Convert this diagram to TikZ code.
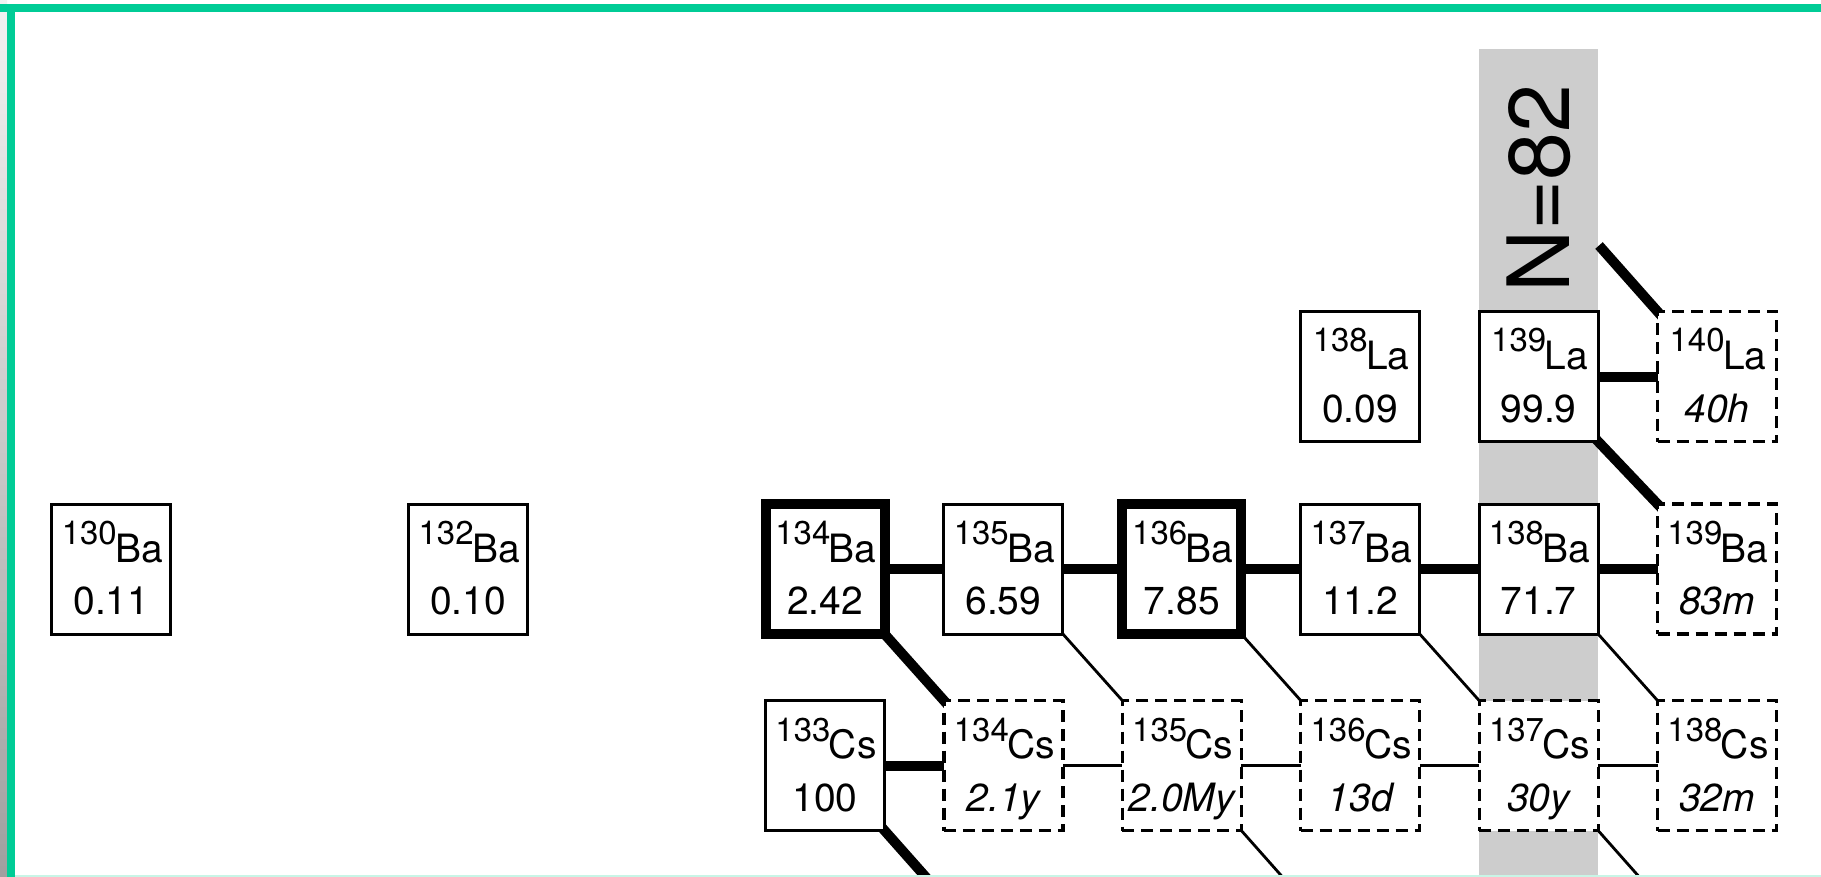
\documentclass[tikz,border=0pt]{standalone}
\usepackage{fontspec}
\setmainfont{TeX Gyre Heros}
\usetikzlibrary{calc}
\definecolor{framegreen}{RGB}{0,204,150}
\definecolor{lightgreen}{RGB}{200,245,230}
\definecolor{bandgray}{RGB}{205,205,205}
\newcommand\supsz{\fontsize{33}{33}\selectfont}
\newcommand\symsz{\fontsize{39}{39}\selectfont}
\newcommand\valsz{\fontsize{39}{39}\selectfont}
\pgfdeclarelayer{bandlayer}
\pgfdeclarelayer{linelayer}
\pgfsetlayers{bandlayer,linelayer,main}
\newcommand\isonode[7]{%
  \node[#4] (#1) at (#2,#3) {};
  \node[lbl] (#1-a) at ($(#1.center)+(1,7)$) {\supsz\raisebox{17.5pt}{#5}\kern-1.5pt\symsz #6};
  \node[lbl] (#1-b) at ($(#1.center)+(0,-45.5)$) {\valsz #7};
}
\begin{document}
\begin{tikzpicture}[x=1pt,y=1pt,
  isobox/.style={draw=black, fill=white, line width=3pt, minimum width=119pt,
    minimum height=130pt, inner sep=0pt, outer sep=0pt},
  thickbox/.style={isobox, line width=10pt},
  dashbox/.style={isobox, line width=3.2pt, dash pattern=on 12pt off 7pt},
  thickline/.style={line width=10pt, shorten <=-6pt, shorten >=-6pt},
  thinline/.style={line width=2.8pt, shorten <=-4pt, shorten >=-4pt},
  lbl/.style={anchor=base, inner sep=0pt}]
\useasboundingbox (0,0) rectangle (1821,-877);
\clip (0,0) rectangle (1821,-877);

% nuclides
\isonode{la138}{1360.2}{-376.5}{isobox}{138}{La}{0.09}
\isonode{la139}{1538.6}{-376.5}{isobox}{139}{La}{99.9}
\isonode{la140}{1717}{-376.5}{dashbox}{140}{La}{\itshape 40h}

\isonode{ba130}{111.4}{-569}{isobox}{130}{Ba}{0.11}
\isonode{ba132}{468.2}{-569}{isobox}{132}{Ba}{0.10}
\isonode{ba134}{825}{-569}{thickbox}{134}{Ba}{2.42}
\isonode{ba135}{1003.4}{-569}{isobox}{135}{Ba}{6.59}
\isonode{ba136}{1181.8}{-569}{thickbox}{136}{Ba}{7.85}
\isonode{ba137}{1360.2}{-569}{isobox}{137}{Ba}{11.2}
\isonode{ba138}{1538.6}{-569}{isobox}{138}{Ba}{71.7}
\isonode{ba139}{1717}{-569}{dashbox}{139}{Ba}{\itshape 83m}

\isonode{cs133}{825}{-765.5}{isobox}{133}{Cs}{100}
\isonode{cs134}{1003.4}{-765.5}{dashbox}{134}{Cs}{\itshape 2.1y}
\isonode{cs135}{1181.8}{-765.5}{dashbox}{135}{Cs}{\itshape 2.0My}
\isonode{cs136}{1360.2}{-765.5}{dashbox}{136}{Cs}{\itshape 13d}
\isonode{cs137}{1538.6}{-765.5}{dashbox}{137}{Cs}{\itshape 30y}
\isonode{cs138}{1717}{-765.5}{dashbox}{138}{Cs}{\itshape 32m}

% N=82 band
\begin{pgfonlayer}{bandlayer}
  \fill[white] (0,0) rectangle (1821,-877);
  \fill[bandgray] (1479,-49) rectangle (1598,-877);
\end{pgfonlayer}
\node[rotate=90, inner sep=0pt, font=\fontsize{86}{86}\selectfont] (n82) at (1539,-189) {N=82};

% free ends
\coordinate (hid) at ($(la140.north west)+(-58.5,66)$);
\coordinate (off133) at ($(cs133.south east)+(58.5,-66)$);
\coordinate (off135) at ($(cs135.south east)+(58.5,-66)$);
\coordinate (off137) at ($(cs137.south east)+(58.5,-66)$);

% connectors
\begin{pgfonlayer}{linelayer}
  \draw[thickline] (ba134.east) -- (ba135.west);
  \draw[thickline] (ba135.east) -- (ba136.west);
  \draw[thickline] (ba136.east) -- (ba137.west);
  \draw[thickline] (ba137.east) -- (ba138.west);
  \draw[thickline] (ba138.east) -- (ba139.west);
  \draw[thickline] (la139.east) -- (la140.west);
  \draw[thickline] (cs133.east) -- (cs134.west);
  \draw[thinline] (cs134.east) -- (cs135.west);
  \draw[thinline] (cs135.east) -- (cs136.west);
  \draw[thinline] (cs136.east) -- (cs137.west);
  \draw[thinline] (cs137.east) -- (cs138.west);
  \draw[thickline] (ba134.south east) -- (cs134.north west);
  \draw[thickline] (la139.south east) -- (ba139.north west);
  \draw[thickline, shorten <=0pt] (hid) -- (la140.north west);
  \draw[thickline, shorten >=0pt] (cs133.south east) -- (off133);
  \draw[thinline] (ba135.south east) -- (cs135.north west);
  \draw[thinline] (ba136.south east) -- (cs136.north west);
  \draw[thinline] (ba137.south east) -- (cs137.north west);
  \draw[thinline] (ba138.south east) -- (cs138.north west);
  \draw[thinline, shorten >=0pt] (cs135.south east) -- (off135);
  \draw[thinline, shorten >=0pt] (cs137.south east) -- (off137);
\end{pgfonlayer}

% frame
\shade[top color=gray!10, bottom color=gray!75] (0,0) rectangle (7,-877);
\fill[framegreen] (0,-4) rectangle (1821,-12);
\fill[framegreen] (7,-4) rectangle (15,-877);
\fill[lightgreen] (15,-875) rectangle (1821,-877);
\end{tikzpicture}
\end{document}
